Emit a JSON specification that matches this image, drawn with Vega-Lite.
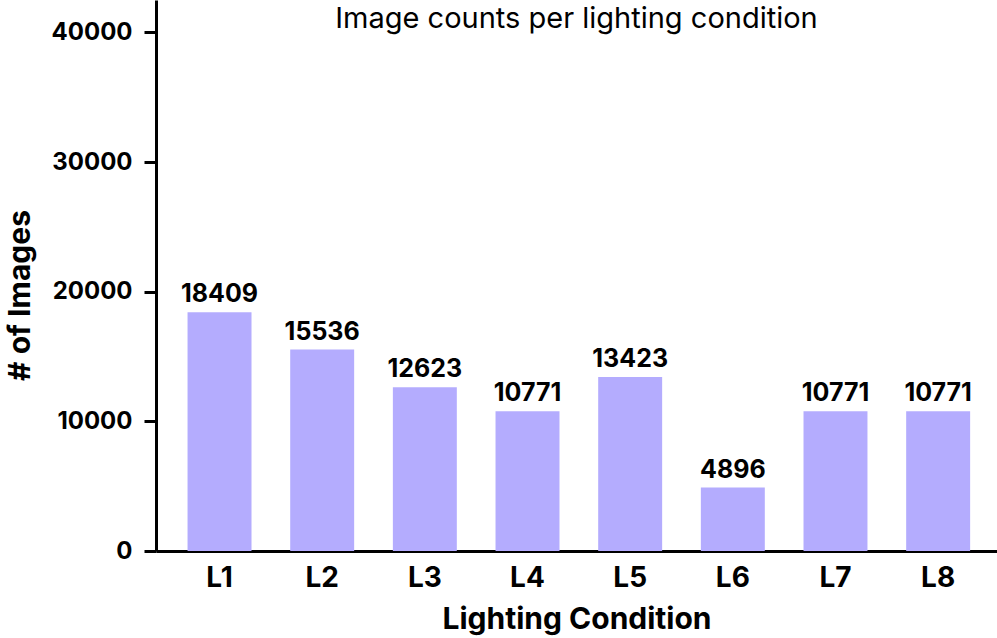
{
  "$schema": "https://vega.github.io/schema/vega-lite/v6.json",
  "autosize": {"type": "none"},
  "padding": {"left": 156, "top": 0, "right": 0, "bottom": 87},
  "width": 841,
  "height": 551,
  "background": "white",
  "title": {
    "text": "Image counts per lighting condition",
    "orient": "top",
    "anchor": "middle",
    "frame": "group",
    "offset": 0,
    "baseline": "alphabetic",
    "dy": 57,
    "dx": 0,
    "font": "Inter",
    "fontSize": 29,
    "fontWeight": "normal",
    "color": "black"
  },
  "config": {
    "view": {"stroke": null},
    "font": "Inter"
  },
  "data": {
    "values": [
      {"condition": "L1", "count": 18409},
      {"condition": "L2", "count": 15536},
      {"condition": "L3", "count": 12623},
      {"condition": "L4", "count": 10771},
      {"condition": "L5", "count": 13423},
      {"condition": "L6", "count": 4896},
      {"condition": "L7", "count": 10771},
      {"condition": "L8", "count": 10771}
    ]
  },
  "encoding": {
    "x": {
      "field": "condition",
      "type": "nominal",
      "sort": null,
      "scale": {"paddingInner": 0.377, "paddingOuter": 0.2845, "align": 0.54},
      "axis": {
        "title": "Lighting Condition",
        "titleFont": "Inter",
        "titleFontSize": 30,
        "titleFontWeight": "bold",
        "titleColor": "black",
        "titleBaseline": "alphabetic",
        "titleY": 77,
        "labelAngle": 0,
        "labelFont": "Inter",
        "labelFontSize": 28,
        "labelFontWeight": "bold",
        "labelColor": "black",
        "labelBaseline": "alphabetic",
        "labelPadding": 35,
        "ticks": false,
        "domainColor": "black",
        "domainWidth": 3
      }
    },
    "y": {
      "field": "count",
      "type": "quantitative",
      "scale": {"domain": [0, 42500], "nice": false, "zero": true},
      "axis": {
        "title": "# of Images",
        "titleFont": "Inter",
        "titleFontSize": 30,
        "titleFontWeight": "bold",
        "titleColor": "black",
        "titleX": -136,
        "titleY": 295,
        "titleAngle": -90,
        "titleAlign": "center",
        "titleBaseline": "middle",
        "values": [0, 10000, 20000, 30000, 40000],
        "format": "d",
        "labelFont": "Inter",
        "labelFontSize": 24,
        "labelFontWeight": "bold",
        "labelColor": "black",
        "labelPadding": 12,
        "tickSize": 12,
        "tickWidth": 3,
        "tickColor": "black",
        "domainColor": "black",
        "domainWidth": 3,
        "grid": false
      }
    }
  },
  "layer": [
    {
      "mark": {"type": "bar", "color": "#b4acfe"}
    },
    {
      "mark": {
        "type": "text",
        "baseline": "alphabetic",
        "dy": -10,
        "font": "Inter",
        "fontSize": 25,
        "fontWeight": "bold",
        "color": "black"
      },
      "encoding": {
        "text": {"field": "count", "type": "quantitative", "format": "d"}
      }
    }
  ]
}
